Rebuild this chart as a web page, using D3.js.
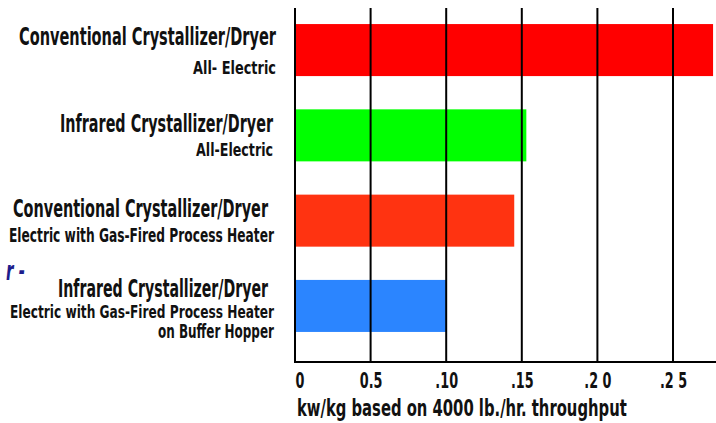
<!DOCTYPE html>
<html>
<head>
<meta charset="utf-8">
<script src="https://cdn.jsdelivr.net/npm/d3@7"></script>
<style>
  html, body { margin: 0; padding: 0; background: #fff; }
  svg { display: block; }
  text { font-family: "Liberation Sans Narrow", "Arial Narrow", "DejaVu Sans Condensed", "Liberation Sans", sans-serif; font-weight: bold; fill: #111; }
</style>
</head>
<body>
<div id="chart"></div>
<script>
// categories: label lines (title first, then sub lines)
const categories = [
  ['Conventional Crystallizer/Dryer', 'All- Electric'],
  ['Infrared Crystallizer/Dryer', 'All-Electric'],
  ['Conventional Crystallizer/Dryer', 'Electric with Gas-Fired Process Heater'],
  ['Infrared Crystallizer/Dryer', 'Electric with Gas-Fired Process Heater', 'on Buffer Hopper'],
];
const values = [0.2765, 0.153, 0.145, 0.10];
const barColors = ['#ff0000', '#00ff00', '#ff3311', '#2b85ff'];
const tickValues = [0, 0.05, 0.10, 0.15, 0.20, 0.25];
const tickLabels = ['0', '0.5', '.10', '.15', '.2 0', '.2 5'];
const axisTitle = 'kw/kg based on 4000 lb./hr. throughput';

// per-line layout: baseline offset from band centre, font size, right edge, drawn width
const labelLayout = [
  [{ dy: -5, size: 25, x: 276, w: 257 }, { dy: 24, size: 18, x: 276, w: 83 }],
  [{ dy: -3, size: 25, x: 273, w: 213 }, { dy: 21, size: 18, x: 273, w: 77 }],
  [{ dy: -4, size: 25, x: 268, w: 255 }, { dy: 21, size: 19, x: 274, w: 265 }],
  [{ dy: -9, size: 24, x: 268, w: 210 }, { dy: 12, size: 18, x: 274, w: 264 }, { dy: 32, size: 19, x: 274, w: 116 }],
];

const width = 716;
const height = 423;
const gridTop = 8;
const axisY = 362;

const svg = d3.select('#chart').append('svg')
  .attr('width', width)
  .attr('height', height);

const x = d3.scaleLinear().domain([0, 0.25]).range([295, 673]);
const y = d3.scaleBand()
  .domain(d3.range(categories.length))
  .range([7, 349])
  .paddingInner(0.39)
  .paddingOuter(0.2);

// bars
svg.append('g')
  .selectAll('rect')
  .data(values)
  .join('rect')
  .attr('x', x(0))
  .attr('y', (d, i) => y(i))
  .attr('width', (d) => x(d) - x(0))
  .attr('height', y.bandwidth())
  .attr('fill', (d, i) => barColors[i]);

// vertical grid lines drawn on top of bars
svg.append('g')
  .selectAll('line')
  .data(tickValues)
  .join('line')
  .attr('x1', (d) => x(d))
  .attr('x2', (d) => x(d))
  .attr('y1', gridTop)
  .attr('y2', axisY)
  .attr('stroke', '#000')
  .attr('stroke-width', 2);

// bottom axis
const xAxis = svg.append('g')
  .attr('transform', `translate(0,${axisY})`)
  .call(d3.axisBottom(x)
    .tickValues(tickValues)
    .tickFormat((d, i) => tickLabels[i])
    .tickSize(0)
    .tickPadding(0));

xAxis.select('.domain').remove();
xAxis.append('line')
  .attr('x1', x(0) - 1)
  .attr('x2', width)
  .attr('stroke', '#000')
  .attr('stroke-width', 2);

const tickText = xAxis.selectAll('.tick text')
  .attr('y', 26)
  .attr('dy', null)
  .attr('font-size', 22)
  .attr('font-family', null)
  .attr('fill', '#111')
  .attr('text-anchor', (d, i) => (i === 0 ? 'start' : 'middle'));

// axis title, squeezed horizontally with a transform
const axisLabel = svg.append('text')
  .attr('font-size', 23)
  .text(axisTitle);
const titleScale = 330 / axisLabel.node().getComputedTextLength();
axisLabel.attr('transform', `translate(297,415.5) scale(${titleScale},1)`);

// category labels
const labelGroups = svg.append('g')
  .selectAll('g')
  .data(categories)
  .join('g')
  .attr('transform', (d, i) => `translate(0,${y(i) + y.bandwidth() / 2})`);

labelGroups.selectAll('text')
  .data((d, i) => d.map((line, j) => ({ line, ...labelLayout[i][j] })))
  .join('text')
  .attr('x', (d) => d.x)
  .attr('y', (d) => d.dy)
  .attr('text-anchor', 'end')
  .attr('font-size', (d) => d.size)
  .attr('textLength', (d) => d.w)
  .attr('lengthAdjust', 'spacingAndGlyphs')
  .text((d) => d.line);

// stray fragment at left edge
const fragment = svg.append('text')
  .attr('x', 25)
  .attr('y', 280)
  .attr('text-anchor', 'end')
  .attr('font-size', 26)
  .attr('font-style', 'italic')
  .style('fill', '#1c1c8c')
  .text('r -');

// condense remaining texts uniformly, calibrated on the first title
const firstTitle = labelGroups.select('text').node();
firstTitle.removeAttribute('textLength');
const condense = 257 / firstTitle.getComputedTextLength();
firstTitle.setAttribute('textLength', 257);

function squeeze(sel) {
  sel.each(function () {
    const len = this.getComputedTextLength();
    d3.select(this)
      .attr('textLength', len * condense)
      .attr('lengthAdjust', 'spacingAndGlyphs');
  });
}
squeeze(tickText);
squeeze(fragment);
</script>
</body>
</html>
